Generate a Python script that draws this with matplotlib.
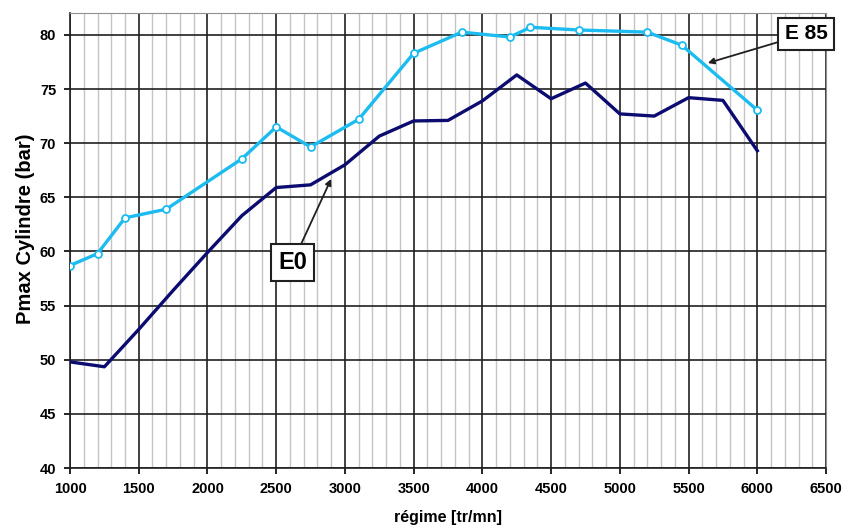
#pmax.py
#pression max cylindre vs regime, E0 et E85

import matplotlib.pyplot as plt
from matplotlib.ticker import MultipleLocator

plt.rcParams['font.family']=['Liberation Sans','DejaVu Sans']
plt.rcParams['font.weight']='bold'
plt.rcParams['axes.labelweight']='bold'

#E0 : une mesure tous les 250 tr/mn
regime_e0=[1000,1250,1500,1750,2000,2250,2500,2750,3000,3250,3500,3750,4000,4250,4500,4750,5000,5250,5500,5750,6000]
pmax_e0=[49.8,49.35,52.8,56.4,59.9,63.3,65.9,66.15,68.0,70.65,72.05,72.1,73.9,76.3,74.1,75.55,72.7,72.5,74.2,73.95,69.3]

#E85
regime_e85=[1000,1200,1400,1700,2250,2500,2750,3100,3500,3850,4200,4350,4700,5200,5450,6000]
pmax_e85=[58.7,59.8,63.1,63.9,68.55,71.5,69.65,72.2,78.3,80.25,79.8,80.7,80.45,80.25,79.05,73.05]

fig=plt.figure(figsize=(8.55,5.28),dpi=100)
ax=fig.add_axes([0.0819,0.1136,0.8842,0.8614])

ax.set_xlim(1000,6500)
ax.set_ylim(40,82)
ax.xaxis.set_major_locator(MultipleLocator(500))
ax.xaxis.set_minor_locator(MultipleLocator(100))
ax.yaxis.set_major_locator(MultipleLocator(5))

ax.grid(which='minor',axis='x',color='#c4c4c4',linewidth=1.0)
ax.grid(which='major',axis='both',color='#202020',linewidth=1.2)
ax.set_axisbelow(True)

for s in ['top','right']:
    ax.spines[s].set_color('#909090')
for s in ['left','bottom']:
    ax.spines[s].set_color('#202020')
    ax.spines[s].set_linewidth(1.2)

ax.tick_params(which='major',length=4,width=1.2,labelsize=10.5,pad=6)
ax.tick_params(which='minor',length=0)

ax.plot(regime_e0,pmax_e0,color='#0c0c70',linewidth=2.4,zorder=3)
ax.plot(regime_e85,pmax_e85,color='#1cbcf0',linewidth=2.4,marker='o',markersize=5,
        markerfacecolor='white',markeredgecolor='#1cbcf0',markeredgewidth=1.3,zorder=4)

boxstyle=dict(boxstyle='square,pad=0.3',facecolor='white',edgecolor='#202020',linewidth=1.5)
ax.annotate('E0',xy=(2900,66.7),xytext=(2620,59.0),fontsize=17,ha='center',va='center',
            bbox=boxstyle,arrowprops=dict(arrowstyle='-|>',color='#202020',lw=1.3,mutation_scale=9,shrinkA=0,shrinkB=0),zorder=5)
ax.annotate('E 85',xy=(5640,77.4),xytext=(6355,80.1),fontsize=15,ha='center',va='center',
            bbox=boxstyle,arrowprops=dict(arrowstyle='-|>',color='#202020',lw=1.3,mutation_scale=9,shrinkA=0,shrinkB=0),
            annotation_clip=False,zorder=5)

ax.set_xlabel('régime [tr/mn]',fontsize=11.5,fontweight='bold',labelpad=10)
ax.set_ylabel('Pmax Cylindre (bar)',fontsize=14.5,fontweight='bold')
ax.yaxis.set_label_coords(-0.046,0.525)

fig.savefig('out.png',dpi=100)
